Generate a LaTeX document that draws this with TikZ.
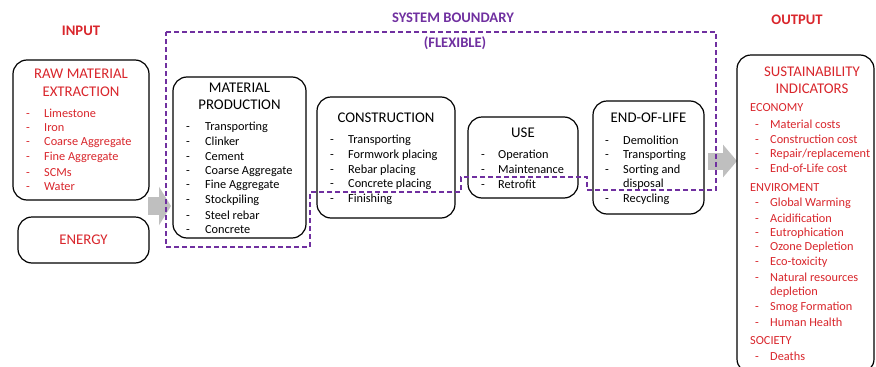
\documentclass[tikz,border=0pt]{standalone}
\usepackage{fontspec}
\setmainfont{Carlito}
\usetikzlibrary{arrows.meta}

\definecolor{lcared}{HTML}{D9262C}
\definecolor{sbpurple}{HTML}{7030A0}
\definecolor{flowgray}{HTML}{BFBFBF}

\begin{document}
\begin{tikzpicture}[x=1pt, y=-1pt,
    box/.style={draw, fill=white, line width=1.2pt, rounded corners=14pt, inner sep=0pt},
    head/.style={align=center, inner sep=0pt, font=\fontsize{14.8}{17.5}\selectfont},
    item/.style={anchor=west, inner sep=0pt, font=\fontsize{12.3}{14}\selectfont},
    group/.style={anchor=west, inner sep=0pt, font=\fontsize{12.3}{14}\selectfont},
    label/.style={inner sep=0pt, font=\bfseries\fontsize{14.6}{16}\selectfont},
    flow/.style={flowgray, line width=18pt, -{Triangle[length=12pt, width=38pt]}},
    boundary/.style={sbpurple, line width=1.3pt, dash pattern=on 5pt off 3pt}]
    \useasboundingbox (0,0) rectangle (876,367);

    % Input and output arrows (behind the boxes)
    \coordinate (in-s) at (148,206);
    \coordinate (in-e) at (171,206);
    \coordinate (out-s) at (708,161);
    \coordinate (out-e) at (737,161);
    \draw[flow] (in-s) -- (in-e);
    \draw[flow, -{Triangle[length=14pt, width=32pt]}, line width=17pt] (out-s) -- (out-e);

    % Headings
    \node[label, lcared] (input) at (81,31) {INPUT};
    \node[label, lcared] (output) at (797,20) {OUTPUT};
    \node[label, sbpurple] (sb) at (453,18) {SYSTEM BOUNDARY};
    \node[label, sbpurple] (flex) at (455,43) {(FLEXIBLE)};

    % Raw material extraction
    \node[box, minimum width=136, minimum height=140] (raw) at (81,130) {};
    \node[head, lcared] (raw-t) at (81,83) {RAW MATERIAL\\EXTRACTION};
    \foreach \t [count=\i from 0] in {Limestone, Iron, Coarse Aggregate, Fine Aggregate, SCMs, Water}
        \node[item, lcared] (raw-\i) at (26,{113+14.8*\i}) {\makebox[18pt][l]{-}\t};

    % Energy
    \node[box, minimum width=131, minimum height=46] (energy) at (83.5,240) {};
    \node[head, lcared] (energy-t) at (energy) {ENERGY};

    % Material production
    \node[box, minimum width=133, minimum height=161] (mat) at (239.5,157.5) {};
    \node[head] (mat-t) at (239.5,96.5) {MATERIAL\\PRODUCTION};
    \foreach \t [count=\i from 0] in {Transporting, Clinker, Cement, Coarse Aggregate, Fine Aggregate, Stockpiling, Steel rebar, Concrete}
        \node[item] (mat-\i) at (186,{127+14.7*\i}) {\makebox[19pt][l]{-}\t};

    % Construction
    \node[box, minimum width=138, minimum height=121] (con) at (386,157.5) {};
    \node[head] (con-t) at (386,118) {CONSTRUCTION};
    \foreach \t [count=\i from 0] in {Transporting, Formwork placing, Rebar placing, Concrete placing, Finishing}
        \node[item] (con-\i) at (330,{140+14.9*\i}) {\makebox[18pt][l]{-}\t};

    % Use
    \node[box, minimum width=110, minimum height=81] (use) at (523,157.5) {};
    \node[head] (use-t) at (523,133) {USE};
    \foreach \t [count=\i from 0] in {Operation, Maintenance, Retrofit}
        \node[item] (use-\i) at (481,{155+14.6*\i}) {\makebox[17pt][l]{-}\t};

    % End of life
    \node[box, minimum width=111, minimum height=113] (eol) at (648.5,157.5) {};
    \node[head] (eol-t) at (648.5,118) {END-OF-LIFE};
    \node[item] (eol-0) at (605,140) {\makebox[18pt][l]{-}Demolition};
    \node[item] (eol-1) at (605,155) {\makebox[18pt][l]{-}Transporting};
    \node[item] (eol-2) at (605,170) {\makebox[18pt][l]{-}Sorting and};
    \node[item] (eol-3) at (623,184) {disposal};
    \node[item] (eol-4) at (605,199) {\makebox[18pt][l]{-}Recycling};

    % Sustainability indicators
    \node[box, minimum width=137, minimum height=318] (sus) at (805.5,214) {};
    \node[head, lcared] (sus-t) at (812,80) {SUSTAINABILITY\\INDICATORS};
    \node[group, lcared] (eco) at (750,108) {ECONOMY};
    \foreach \t [count=\i from 0] in {Material costs, Construction cost, Repair/replacement, End-of-Life cost}
        \node[item, lcared] (eco-\i) at (755,{124+14.9*\i}) {\makebox[15pt][l]{-}\t};
    \node[group, lcared] (env) at (750,188) {ENVIROMENT};
    \foreach \t/\y [count=\i from 0] in {Global Warming/203, Acidification/218, Eutrophication/233, Ozone Depletion/247, Eco-toxicity/262, Natural resources/277, Smog Formation/307, Human Health/322}
        \node[item, lcared] (env-\i) at (755,\y) {\makebox[15pt][l]{-}\t};
    \node[item, lcared] (env-x) at (770,292) {depletion};
    \node[group, lcared] (soc) at (750,341) {SOCIETY};
    \node[item, lcared] (soc-0) at (755,356) {\makebox[15pt][l]{-}Deaths};

    % System boundary (on top)
    \draw[boundary] (166,32) -- (716,32) -- (716,190) -- (587,190) -- (587,177)
        -- (461,177) -- (461,192) -- (310,192) -- (310,247) -- (166,247) -- cycle;
\end{tikzpicture}
\end{document}
